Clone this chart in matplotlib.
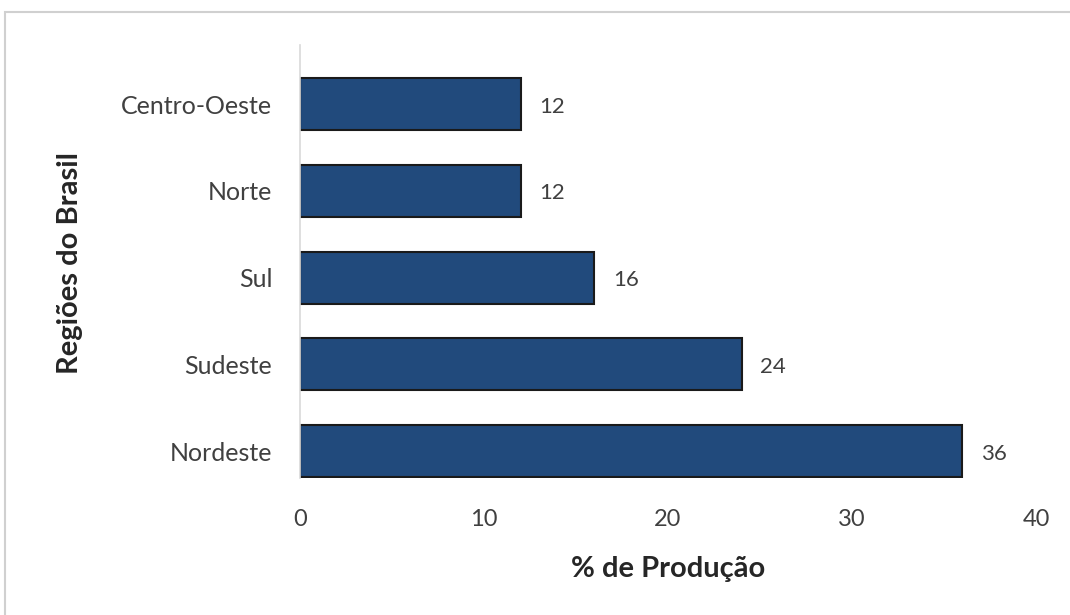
import matplotlib.pyplot as plt
from matplotlib.patches import Rectangle

# data
regioes = ['Nordeste', 'Sudeste', 'Sul', 'Norte', 'Centro-Oeste']
producao = [36, 24, 16, 12, 12]
x_ticks = [0, 10, 20, 30, 40]

plt.rcParams['font.family'] = ['Lato', 'DejaVu Sans']

fig = plt.figure(figsize=(10.7, 6.15), dpi=100)

# light grey frame around the chart area
fig.patches.append(Rectangle((5 / 1070, -0.1), 1.2, 1 - 12 / 615 + 0.1,
                             transform=fig.transFigure, fill=False,
                             edgecolor='#d0d0d0', linewidth=1.5))

ax = fig.add_axes([300 / 1070, 1 - 478 / 615, 736 / 1070, 433 / 615])

ypos = list(range(len(regioes)))
bars = ax.barh(ypos, producao, height=0.6, color='#214a7c',
               edgecolor='#1a1a1a', linewidth=1.5)

# value labels at the end of each bar
for y, v in zip(ypos, producao):
    ax.text(v + 1.0, y - 0.03, str(v), va='center', ha='left',
            fontsize=16, color='#404040')

ax.set_xlim(0, 40)
ax.set_ylim(-0.31, 4.68)
ax.set_xticks(x_ticks)
ax.set_xticklabels([str(t) for t in x_ticks])
ax.set_yticks(ypos)
ax.set_yticklabels(regioes)
ax.tick_params(axis='both', length=0, labelsize=17, labelcolor='#404040')
ax.tick_params(axis='x', pad=22)
ax.tick_params(axis='y', pad=20, labelsize=18)

for s in ['top', 'right', 'bottom']:
    ax.spines[s].set_visible(False)
ax.spines['left'].set_color('#d9d9d9')
ax.spines['left'].set_linewidth(1.2)

ax.set_xlabel('% de Produção', fontsize=21, fontweight='bold',
              color='#262626', labelpad=19)
fig.text(70 / 1070, 1 - 263 / 615, 'Regiões do Brasil', rotation=90,
         fontsize=21, fontweight='bold', color='#262626',
         ha='center', va='center')

fig.savefig('out.png', dpi=100)
